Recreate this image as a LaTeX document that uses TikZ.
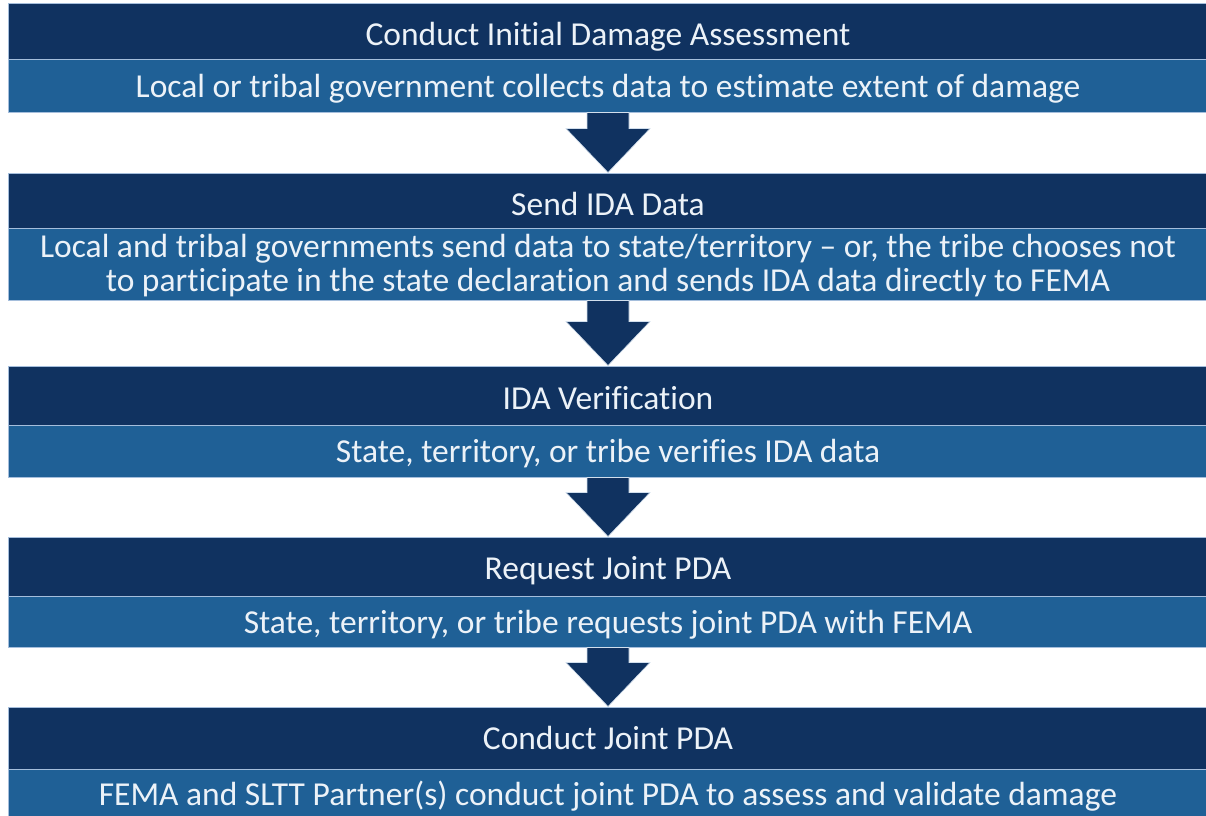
\documentclass[tikz,border=0pt]{standalone}
\usepackage{fontspec}
\setmainfont{Carlito}[Ligatures={NoCommon}]
\usetikzlibrary{calc}
\definecolor{darkband}{RGB}{16,50,96}
\definecolor{lightband}{RGB}{31,96,150}
\definecolor{edgeline}{RGB}{165,190,220}
\definecolor{txtcol}{RGB}{236,242,248}
\begin{document}
\begin{tikzpicture}[x=1pt,y=-1pt,
  band/.style={rectangle, minimum width=1200pt, inner sep=0pt, draw=edgeline, line width=1pt},
  dk/.style={band, fill=darkband},
  lt/.style={band, fill=lightband},
  label text/.style={anchor=base, inner sep=0pt, text=txtcol, font=\fontsize{33.5}{36}\selectfont},
  blockarrow/.style={fill=darkband, draw=edgeline!50!white, line width=0.6pt, line join=miter}]
\useasboundingbox (0,0) rectangle (1206,815);
\fill[white] (0,0) rectangle (1206,815);
% bands
\node[dk, minimum height=56pt] (d1) at (608,31) {};
\node[lt, minimum height=53pt] (l1) at (608,85.5) {};
\node[dk, minimum height=55pt] (d2) at (608,200.5) {};
\node[lt, minimum height=72pt] (l2) at (608,264) {};
\node[dk, minimum height=59pt] (d3) at (608,395.5) {};
\node[lt, minimum height=52pt] (l3) at (608,451) {};
\node[dk, minimum height=59pt] (d4) at (608,566.5) {};
\node[lt, minimum height=51pt] (l4) at (608,621.5) {};
\node[dk, minimum height=62pt] (d5) at (608,738) {};
\node[lt, minimum height=52pt] (l5) at (608,795) {};
% texts
\node[label text] (td1) at (608,45) {Conduct Initial Damage Assessment};
\node[label text] (tl1) at (608,97) {Local or tribal government collects data to estimate extent of damage};
\node[label text] (td2) at (608,215.5) {Send IDA Data};
\node[label text] (tl2a) at (608,257) {Local and tribal governments send data to state/territory – or, the tribe chooses not};
\node[label text] (tl2b) at (608,291.5) {to participate in the state declaration and sends IDA data directly to FEMA};
\node[label text] (td3) at (608,409) {IDA Verification};
\node[label text] (tl3) at (608,462) {State, territory, or tribe verifies IDA data};
\node[label text] (td4) at (608,579) {Request Joint PDA};
\node[label text] (tl4) at (608,633) {State, territory, or tribe requests joint PDA with FEMA};
\node[label text] (td5) at (608,749) {Conduct Joint PDA};
\node[label text] (tl5) at (608,805) {FEMA and SLTT Partner(s) conduct joint PDA to assess and validate damage};
% arrows
\foreach \a/\b in {l1/d2,l2/d3,l3/d4,l4/d5}{
  \filldraw[blockarrow] ($(\a.south)+(-21,0)$) -- ($(\a.south)+(21,0)$)
    -- ($(\b.north)+(21,-44)$) -- ($(\b.north)+(42,-44)$) -- (\b.north)
    -- ($(\b.north)+(-42,-44)$) -- ($(\b.north)+(-21,-44)$) -- cycle;
}
\end{tikzpicture}
\end{document}
